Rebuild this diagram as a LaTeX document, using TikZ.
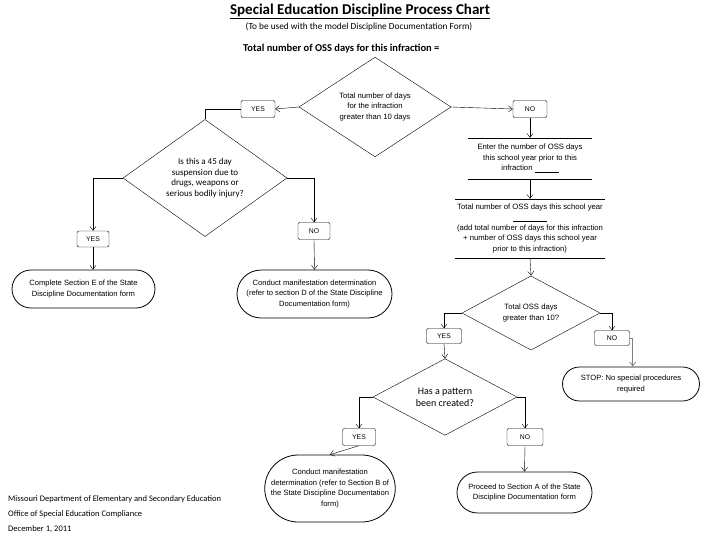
\documentclass[tikz,border=0pt]{standalone}
\usepackage{fontspec}
\setmainfont{Liberation Sans}
\newfontfamily\calibri{Carlito}
\usetikzlibrary{shapes.geometric,shapes.misc,arrows.meta}
\tikzset{
    decision/.style={diamond, draw, inner sep=0pt, align=center, font=\fontsize{7.7}{10.5}\selectfont},
    answer/.style={draw, rounded corners=2pt, minimum width=34pt, minimum height=17pt, inner sep=0pt, font=\fontsize{6.8}{8}\selectfont},
    terminal/.style={rounded rectangle, draw, thick, inner sep=0pt, align=center, font=\fontsize{7.6}{10.5}\selectfont},
    infobox/.style={inner sep=0pt, align=center, font=\fontsize{7.7}{10.5}\selectfont},
    flow/.style={-{Straight Barb[length=4pt,width=6pt]}},
}
\begin{document}
\begin{tikzpicture}[x=1pt, y=-1pt]
    \useasboundingbox (0,0) rectangle (720,540);
    % headings
    \node (title) at (360,11) {\calibri\bfseries\fontsize{15}{16}\selectfont\underline{Special Education Discipline Process Chart}};
    \node (subtitle) at (359,26.5) {\calibri\fontsize{9.3}{10}\selectfont (To be used with the model Discipline Documentation Form)};
    \node[anchor=west, inner sep=0pt] (total) at (243,49) {\calibri\bfseries\fontsize{10.5}{12}\selectfont Total number of OSS days for this infraction =};
    % first question
    \node[decision, minimum width=152pt, minimum height=86pt] (q1) at (375,107) {Total number of days\\for the infraction\\greater than 10 days};
    \node[answer] (yes1) at (258,109) {YES};
    \node[answer] (no1) at (530,109) {NO};
    % yes branch
    \node[decision, minimum width=164pt, minimum height=94pt, font=\calibri\fontsize{9}{10.5}\selectfont] (q2) at (205,178) {Is this a 45 day\\suspension due to\\drugs, weapons or\\serious bodily injury?};
    \node[answer, minimum width=32pt, minimum height=16pt] (yes2) at (93,239) {YES};
    \node[answer, minimum width=32pt] (no2) at (314,231) {NO};
    \node[terminal, minimum width=143pt, minimum height=38pt] (secE) at (83.5,289) {Complete Section E of the State\\Discipline Documentation form};
    \node[terminal, minimum width=155pt, minimum height=48pt] (secD) at (314.5,294) {Conduct manifestation determination\\(refer to section D of the State Discipline\\Documentation form)};
    % no branch
    \node[infobox, minimum width=124pt, minimum height=41pt] (prior) at (530,158.5) {Enter the number of OSS days\\this school year prior to this\\infraction \underline{\hspace{24pt}}};
    \node[infobox, minimum width=150pt, minimum height=59pt] (year) at (530,228.5) {Total number of OSS days this school year\\\underline{\hspace{34pt}}\\(add total number of days for this infraction\\+ number of OSS days this school year\\prior to this infraction)};
    \draw (prior.north west) -- (prior.north east);
    \draw (prior.south west) -- (prior.south east);
    \draw (year.north west) -- (year.north east);
    \draw (year.south west) -- (year.south east);
    \node[decision, minimum width=138pt, minimum height=50pt] (q3) at (531,313) {Total OSS days\\greater than 10?};
    \node[answer, minimum width=35pt, minimum height=15pt] (yes3) at (444,336) {YES};
    \node[answer, minimum width=35pt, minimum height=15pt] (no3) at (612,338) {NO};
    \node[terminal, minimum width=137pt, minimum height=34pt] (stop) at (631,384) {STOP: No special procedures\\required};
    \node[decision, minimum width=144pt, minimum height=64pt, font=\calibri\fontsize{10}{12}\selectfont] (q4) at (445,397) {Has a pattern\\been created?};
    \node[answer, minimum width=33pt] (yes4) at (359,437) {YES};
    \node[answer, minimum width=36pt] (no4) at (525,437) {NO};
    \node[terminal, minimum width=130pt, minimum height=67pt] (secB) at (330,488.5) {Conduct manifestation\\determination (refer to Section B of\\the State Discipline Documentation\\form)};
    \node[terminal, minimum width=135pt, minimum height=41pt] (secA) at (524.5,492.5) {Proceed to Section A of the State\\Discipline Documentation form};
    % connectors
    \draw[flow] (q1.west) -- (yes1.east);
    \draw[flow] (q1.east) -- (no1.west);
    \draw (yes1.west) -| (q2.north);
    \draw[flow] (q2.west) -| (yes2.north);
    \draw[flow] (q2.east) -| (no2.north);
    \draw[flow] (yes2.south) -- (yes2.south |- secE.north);
    \draw[flow] (no2.south) -- (secD.north);
    \draw[flow] (no1.south) -- (prior.north);
    \draw[flow] (prior.south) -- (year.north);
    \draw[flow] (year.south) -- (q3.north);
    \draw[flow] (q3.west) -| (yes3.north);
    \draw[flow] (q3.east) -| (no3.north);
    \draw[flow, gray, thick] (no3.east) -- ++(3,0) coordinate (bend) -- (bend |- stop.north);
    \draw[flow] (yes3.south) -- (q4.north);
    \draw[flow] (q4.west) -| (yes4.north);
    \draw[flow] (q4.east) -| (no4.north);
    \draw[flow] (yes4.south) -- (secB.north);
    \draw[flow] (no4.south) -- (secA.north);
    % footer
    \node[anchor=west, inner sep=0pt, font=\calibri\fontsize{8.5}{9}\selectfont] (dept) at (8,499) {Missouri Department of Elementary and Secondary Education};
    \node[anchor=west, inner sep=0pt, font=\calibri\fontsize{8.5}{9}\selectfont] (office) at (8,514) {Office of Special Education Compliance};
    \node[anchor=west, inner sep=0pt, font=\calibri\fontsize{8.5}{9}\selectfont] (date) at (8,529) {December 1, 2011};
\end{tikzpicture}
\end{document}
